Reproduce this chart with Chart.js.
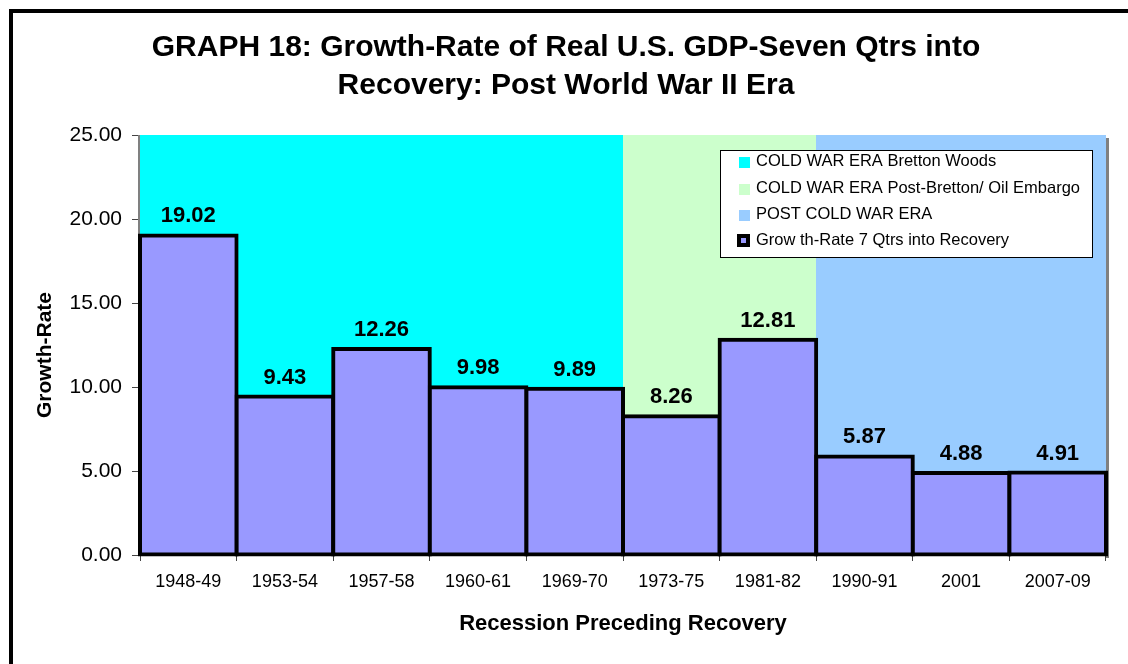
<!DOCTYPE html>
<html>
<head>
<meta charset="utf-8">
<script src="https://cdn.jsdelivr.net/npm/chart.js@4/dist/chart.umd.min.js"></script>
<style>
  html, body { margin: 0; padding: 0; background: #fff; }
  #wrap { position: relative; width: 1128px; height: 664px; }
  canvas { display: block; }
</style>
</head>
<body>
<div id="wrap"><canvas id="c" width="1128" height="664"></canvas></div>
<script>
// ---- data ----
const categories = ['1948-49', '1953-54', '1957-58', '1960-61', '1969-70', '1973-75', '1981-82', '1990-91', '2001', '2007-09'];
const growthRate = [19.02, 9.43, 12.26, 9.98, 9.89, 8.26, 12.81, 5.87, 4.88, 4.91];
const eraOfCategory = [0, 0, 0, 0, 0, 1, 1, 2, 2, 2];
const eraNames = ['COLD WAR ERA Bretton Woods', 'COLD WAR ERA Post-Bretton/ Oil Embargo', 'POST COLD WAR ERA'];
const seriesName = 'Grow th-Rate 7 Qtrs into Recovery';
const titleLines = ['GRAPH 18: Growth-Rate of Real U.S. GDP-Seven Qtrs into', 'Recovery: Post World War II Era'];
const yTitle = 'Growth-Rate';
const xTitle = 'Recession Preceding Recovery';

const eraColors = ['#00FFFF', '#CCFFCC', '#99CCFF'];
const barColor = '#9999FF';
const FONT = '"Liberation Sans", Arial, sans-serif';

const framePlugin = {
  id: 'frame',
  beforeDraw(chart) {
    const ctx = chart.ctx;
    ctx.save();
    ctx.fillStyle = '#fff';
    ctx.fillRect(0, 0, chart.width, chart.height);
    ctx.fillStyle = '#000';
    ctx.fillRect(9, 9, chart.width - 9, 4);
    ctx.fillRect(9, 9, 4, chart.height - 9);
    // title
    ctx.font = 'bold 30px ' + FONT;
    ctx.textAlign = 'center';
    ctx.textBaseline = 'middle';
    ctx.fillText(titleLines[0], 566, 48);
    ctx.fillText(titleLines[1], 566, 86);
    // axis titles
    ctx.font = 'bold 22px ' + FONT;
    ctx.fillText(xTitle, 623, 624);
    ctx.font = 'bold 21px ' + FONT;
    ctx.save();
    ctx.translate(45, 355);
    ctx.rotate(-Math.PI / 2);
    ctx.fillText(yTitle, 0, 0);
    ctx.restore();
    ctx.restore();
  },
  beforeDatasetsDraw(chart) {
    const ctx = chart.ctx;
    const area = chart.chartArea;
    const xs = chart.scales.x;
    const half = (area.right - area.left) / categories.length / 2;
    ctx.save();
    // shadow
    ctx.fillStyle = '#808080';
    ctx.fillRect(area.right, area.top + 3, 3, area.bottom - area.top);
    categories.forEach((c, i) => {
      const cx = xs.getPixelForValue(i);
      ctx.fillStyle = eraColors[eraOfCategory[i]];
      ctx.fillRect(Math.round(cx - half), area.top, Math.round(cx + half) - Math.round(cx - half), area.bottom - area.top);
    });
    // y axis line
    ctx.fillStyle = '#808080';
    ctx.fillRect(area.left - 2, area.top, 2, area.bottom - area.top);
    ctx.restore();
  },
  afterDatasetsDraw(chart) {
    const ctx = chart.ctx;
    const meta = chart.getDatasetMeta(0);
    ctx.save();
    ctx.font = 'bold 22px ' + FONT;
    ctx.fillStyle = '#000';
    ctx.textAlign = 'center';
    ctx.textBaseline = 'alphabetic';
    meta.data.forEach((bar, i) => {
      ctx.fillText(growthRate[i].toFixed(2), bar.x, bar.y - 13);
    });
    // legend
    const lx = 720, ly = 150, lw = 372, lh = 107;
    ctx.fillStyle = '#fff';
    ctx.fillRect(lx, ly, lw, lh);
    ctx.strokeStyle = '#000';
    ctx.lineWidth = 1;
    ctx.strokeRect(lx + 0.5, ly + 0.5, lw, lh);
    ctx.font = '16.5px ' + FONT;
    ctx.textAlign = 'left';
    ctx.textBaseline = 'middle';
    const rows = [161, 188, 214, 240];
    eraNames.forEach((n, i) => {
      ctx.fillStyle = eraColors[i];
      ctx.fillRect(739, rows[i] - 4, 11, 11);
      ctx.fillStyle = '#000';
      ctx.fillText(n, 756, rows[i]);
    });
    ctx.fillStyle = '#000';
    ctx.fillRect(737, rows[3] - 6, 13, 13);
    ctx.fillStyle = barColor;
    ctx.fillRect(741, rows[3] - 2, 5, 5);
    ctx.fillStyle = '#000';
    ctx.fillText(seriesName, 756, rows[3]);
    ctx.restore();
  }
};

new Chart(document.getElementById('c'), {
  type: 'bar',
  data: {
    labels: categories,
    datasets: [{
      label: seriesName,
      data: growthRate,
      backgroundColor: barColor,
      borderColor: '#000',
      borderWidth: 4,
      borderSkipped: false,
      inflateAmount: 2,
      categoryPercentage: 1.0,
      barPercentage: 1.0,
      clip: false
    }]
  },
  options: {
    responsive: false,
    animation: false,
    devicePixelRatio: 1,
    layout: { padding: { left: 20, right: 22, top: 135, bottom: 0 } },
    plugins: { legend: { display: false }, title: { display: false }, tooltip: { enabled: false } },
    scales: {
      x: {
        offset: true,
        grid: { offset: true, drawOnChartArea: false, drawTicks: true, tickLength: 6, color: '#444', lineWidth: 1 },
        border: { display: false },
        ticks: { color: '#000', font: { family: FONT, size: 18 }, padding: 10, maxRotation: 0, autoSkip: false },
        afterFit(s) { s.height = 109; }
      },
      y: {
        min: 0, max: 25,
        grid: { drawOnChartArea: false, drawTicks: true, tickLength: 8, color: '#444', lineWidth: 1 },
        border: { display: false },
        ticks: { stepSize: 5, color: '#000', font: { family: FONT, size: 21 }, padding: 10,
                 callback: v => Number(v).toFixed(2) },
        afterFit(s) { s.width = 120; }
      }
    }
  },
  plugins: [framePlugin]
});
</script>
</body>
</html>
